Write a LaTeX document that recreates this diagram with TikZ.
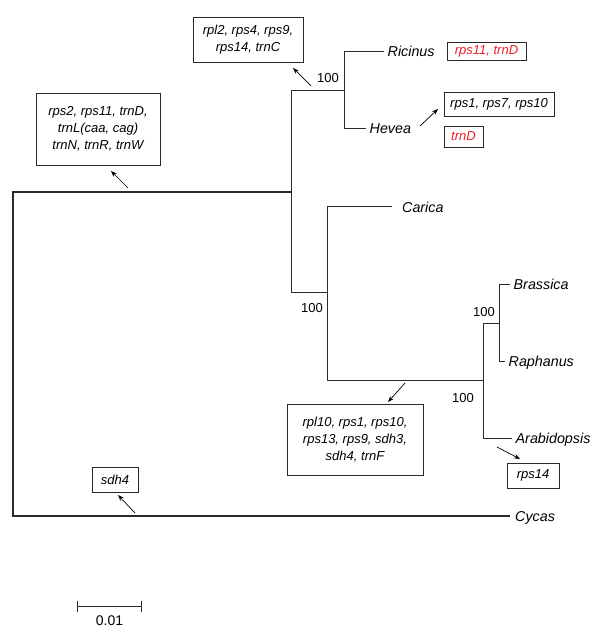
\documentclass[tikz,border=0pt]{standalone}
\usepackage{fontspec}
\setmainfont{Liberation Sans}
\usetikzlibrary{arrows.meta}
\definecolor{GeneLossRed}{HTML}{ED1C24}
\definecolor{TreeGrey}{HTML}{2A2A2A}

\begin{document}
\begin{tikzpicture}[x=1pt,y=-1pt,
    branch/.style={draw=TreeGrey,line width=1pt},
    taxon/.style={anchor=west,inner xsep=3.5pt,inner ysep=0pt,text height=10pt,text depth=0pt,
      font=\fontsize{14.3}{16}\selectfont\itshape},
    support/.style={inner sep=0pt,font=\fontsize{13}{15}\selectfont},
    genebox/.style={draw=TreeGrey,line width=0.7pt,align=center,inner sep=0pt,
      font=\fontsize{13}{17}\selectfont\itshape},
    lossarrow/.style={draw=black,line width=0.7pt,-{Stealth[length=6pt,width=4.5pt]}}]
  \useasboundingbox (0,0) rectangle (600,636);

  % internal nodes of the tree
  \coordinate (root) at (13,354);
  \coordinate (n1) at (291,192);
  \coordinate (n2) at (344,91);
  \coordinate (n3) at (327,292);
  \coordinate (n4) at (483,380);
  \coordinate (n5) at (499,323);

  % taxa
  \foreach \nm/\x/\y/\txt in {ric/384/52/Ricinus,hev/366/129/Hevea,bra/510/284/Brassica,
      rap/505/361/Raphanus,ara/512/438/Arabidopsis}{
    \node[taxon] (\nm) at (\x,\y) {\txt};
  }
  \node[taxon,inner xsep=10pt] (car) at (392,207) {Carica};
  \node[taxon,inner xsep=5pt] (cyc) at (510,516) {Cycas};

  % branches
  \draw[branch,line width=1.3pt] (cyc.west) -| (root) |- (n1);
  \draw[branch] (n1) |- (n2);
  \draw[branch] (n1) |- (n3);
  \draw[branch] (n2) |- (ric.west);
  \draw[branch] (n2) |- (hev.west);
  \draw[branch] (n3) |- (car.west);
  \draw[branch] (n3) |- (n4);
  \draw[branch] (n4) |- (n5);
  \draw[branch] (n4) |- (ara.west);
  \draw[branch] (n5) |- (bra.west);
  \draw[branch] (n5) |- (rap.west);

  % bootstrap support
  \foreach \nm/\x/\y in {bsA/328/78,bsB/312/308,bsC/484/312,bsD/463/398}{
    \node[support] (\nm) at (\x,\y) {100};
  }

  % gene losses
  \node[genebox,minimum width=110pt,minimum height=45pt] (gA) at (248,39.5)
    {rpl2, rps4, rps9,\\ rps14, trnC};
  \node[genebox,minimum width=124pt,minimum height=72pt] (gB) at (98,129)
    {rps2, rps11, trnD,\\ trnL(caa, cag)\\ trnN, trnR, trnW};
  \node[genebox,minimum width=79pt,minimum height=18pt,text=GeneLossRed] (gC) at (486.5,51)
    {rps11, trnD};
  \node[genebox,minimum width=110pt,minimum height=24pt] (gD) at (499,104)
    {rps1, rps7, rps10};
  \node[genebox,minimum width=39pt,minimum height=21pt,text=GeneLossRed] (gE) at (463.5,136.5)
    {trnD};
  \node[genebox,minimum width=136pt,minimum height=71pt] (gF) at (355,439.5)
    {rpl10, rps1, rps10,\\ rps13, rps9, sdh3,\\ sdh4, trnF};
  \node[genebox,minimum width=52pt,minimum height=25pt] (gG) at (533,475.5) {rps14};
  \node[genebox,minimum width=46pt,minimum height=25pt] (gH) at (115,479.5) {sdh4};

  % arrows from branches to boxes
  \foreach \nm/\xa/\ya/\xb/\yb in {aA/311/86/293/68,aB/128/188/111/171,aD/420/126/438/109,
      aF/405/383/388/402,aG/497/447/520/459,aH/135/513/118/495}{
    \coordinate (\nm s) at (\xa,\ya);
    \coordinate (\nm e) at (\xb,\yb);
    \draw[lossarrow] (\nm s) -- (\nm e);
  }

  % scale bar
  \coordinate (sbL) at (77,606);
  \coordinate (sbR) at (142,606);
  \draw[branch,{Bar[width=11pt]}-{Bar[width=11pt]}] (sbL) -- (sbR);
  \node[support,font=\fontsize{14}{16}\selectfont] (sbT) at (109.5,621) {0.01};
\end{tikzpicture}
\end{document}
